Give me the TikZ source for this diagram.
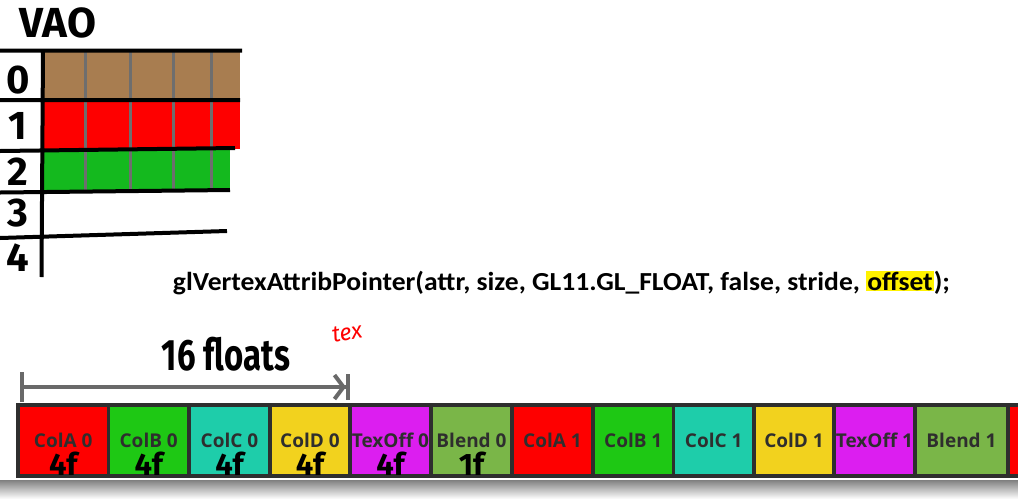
\documentclass[tikz,border=0pt]{standalone}
\usepackage{fontspec}
\setmainfont{Carlito}
\newfontfamily\handfont{Fira Sans}
\newfontfamily\cellfont{Open Sans}
\usepackage{tikz}
\usetikzlibrary{arrows.meta,positioning,calc}
\definecolor{cola}{RGB}{254,0,0}
\definecolor{colb}{RGB}{30,200,20}
\definecolor{colc}{RGB}{30,205,170}
\definecolor{cold}{RGB}{242,210,30}
\definecolor{coltex}{RGB}{220,30,240}
\definecolor{colblend}{RGB}{122,182,72}
\definecolor{edgegray}{RGB}{46,46,46}
\definecolor{arrowgray}{RGB}{105,105,105}
\definecolor{divgray}{RGB}{110,110,110}
\definecolor{vaobrown}{RGB}{168,125,80}
\definecolor{vaogreen}{RGB}{20,185,30}
\definecolor{marker}{RGB}{255,242,0}
\definecolor{shade}{RGB}{245,245,247}

\begin{document}
\begin{tikzpicture}[x=1pt,y=-1pt,every node/.style={inner sep=0pt,outer sep=0pt},
  cell/.style={draw=edgegray,line width=3.5pt,minimum height=71pt,text=black!82,
    font=\cellfont\fontsize{19}{19}\selectfont\bfseries},
  hand/.style={font=\handfont\fontsize{31}{31}\selectfont\bfseries}]
  \fill[white] (0,0) rectangle (1018,499);
  \clip (0,0) rectangle (1018,499);
  \fill[shade] (0,480) rectangle (1018,499);
  % VAO table
  \fill[vaobrown] (43,51) rectangle (240,100);
  \fill[cola] (43,100) rectangle (240,149);
  \fill[vaogreen] (43,150) rectangle (230,191);
  \foreach \x in {85,130,173,211}{\draw[divgray,line width=3pt] (\x,51) -- (\x,191);}
  \draw[line width=4pt] (0,50.5) -- (242,50.5) (0,100) -- (240,100) (0,151) -- (235,148)
    (0,192.5) -- (230,190) (0,238) -- (227,231) (43,50) -- (41.5,277);
  \node[font=\handfont\fontsize{42}{42}\selectfont\bfseries] (vao) at (58,23) {VAO};
  \foreach \r/\y in {0/80,1/126,2/172,3/213,4/258}{\node[font=\handfont\fontsize{40}{40}\selectfont\bfseries] (row\r) at (18,\y) {\r};}
  % call
  \setlength{\fboxsep}{1pt}
  \node[anchor=base,font=\fontsize{26}{26}\selectfont\bfseries] (call) at (561.5,290)
    {\resizebox{777pt}{\height}{glVertexAttribPointer(attr, size, GL11.GL\_FLOAT, false, stride, \colorbox{marker}{offset});}};
  % buffer
  \coordinate (start) at (18,440.5);
  \foreach \n/\t/\c/\w [remember=\n as \prev (initially start)] in {colA0/ColA 0/cola/90.5,colB0/ColB 0/colb/80.5,
      colC0/ColC 0/colc/81,colD0/ColD 0/cold/80,texoff0/TexOff 0/coltex/81,blend0/Blend 0/colblend/81,
      colA1/ColA 1/cola/81,colB1/ColB 1/colb/80.5,colC1/ColC 1/colc/80.5,colD1/ColD 1/cold/80,
      texoff1/TexOff 1/coltex/81,blend1/Blend 1/colblend/93,colA2/ColA 2/cola/81}{
    \node[cell,fill=\c,minimum width=\w pt,right=0pt of \prev] (\n) {\raisebox{-3pt}{\t}};}
  \foreach \c/\v in {colA0/4f,colB0/4f,colC0/4f,colD0/4f,texoff0/4f,blend0/1f}{\node[hand] (n\c) at ($(\c.center)+(0,23)$) {\v};}
  % span
  \coordinate (spanL) at ($(colA0.north west)+(2,-18)$);
  \coordinate (spanR) at ($(colD0.north east)+(0,-18)$);
  \draw[arrowgray,line width=4pt,{Bar[width=30pt]}-{Straight Barb[length=9pt,width=24pt]Bar[width=26pt]}] (spanL) -- (spanR);
  \node[font=\handfont\fontsize{44}{44}\selectfont\bfseries] (floats) at (226,354) {\scalebox{0.75}[1]{16 floats}};
  \node[text=cola,rotate=10,font=\handfont\itshape\fontsize{23}{23}\selectfont] (texnote) at (347,333) {tex};
\end{tikzpicture}
\end{document}
